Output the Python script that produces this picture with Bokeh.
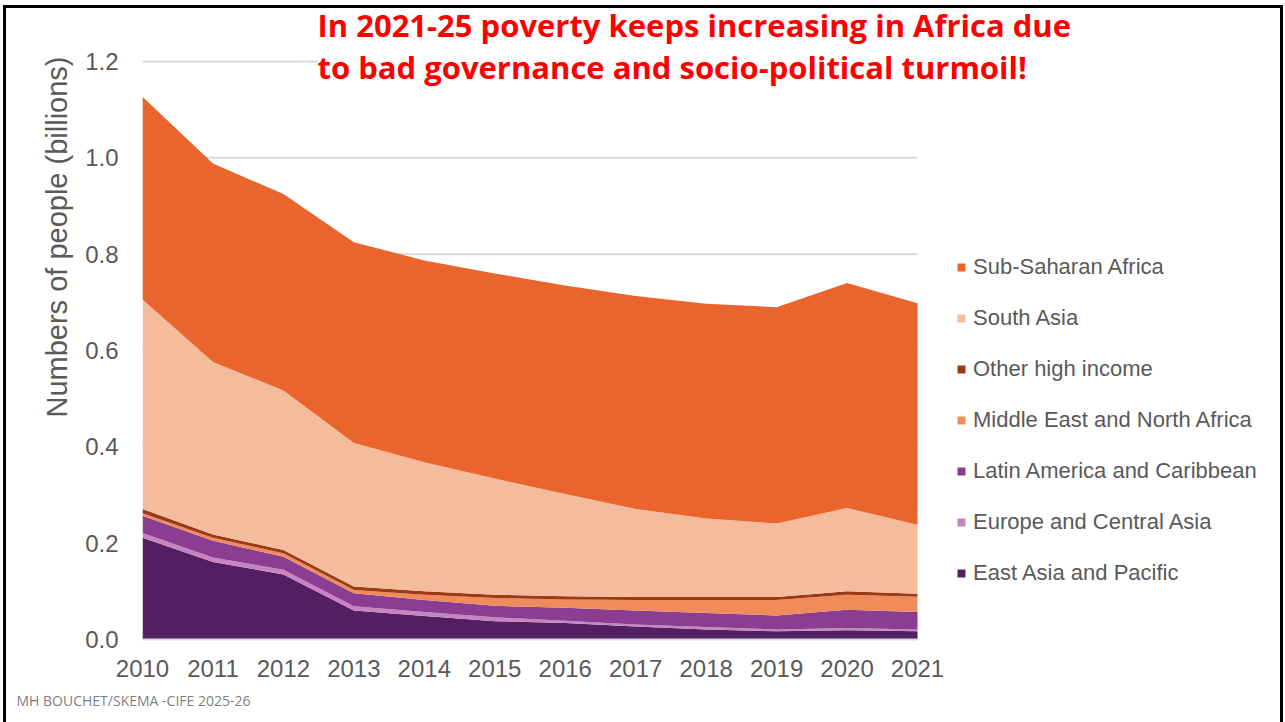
from math import pi
import pandas as pd
from bokeh.plotting import figure
from bokeh.models import (ColumnDataSource, Range1d, FixedTicker, Label, Legend,
                          LegendItem, NumeralTickFormatter, Title)
from bokeh.embed import file_html
from bokeh.resources import INLINE

# ---------------- data (billions of people) ----------------
years = list(range(2010, 2022))
east_asia_pacific = [0.211, 0.161, 0.135, 0.060, 0.049, 0.038, 0.034, 0.027, 0.021, 0.017, 0.019, 0.017]
europe_central_asia = [0.010, 0.009, 0.010, 0.009, 0.008, 0.008, 0.005, 0.004, 0.005, 0.004, 0.005, 0.004]
latin_america_caribbean = [0.036, 0.035, 0.027, 0.027, 0.025, 0.024, 0.027, 0.029, 0.029, 0.029, 0.038, 0.036]
middle_east_north_africa = [0.005, 0.006, 0.007, 0.007, 0.011, 0.016, 0.017, 0.022, 0.027, 0.032, 0.031, 0.032]
other_high_income = [0.009, 0.007, 0.007, 0.007, 0.007, 0.007, 0.007, 0.006, 0.006, 0.006, 0.007, 0.006]
south_asia = [0.435, 0.358, 0.331, 0.298, 0.268, 0.241, 0.212, 0.183, 0.163, 0.153, 0.173, 0.143]
sub_saharan_africa = [0.421, 0.412, 0.408, 0.417, 0.419, 0.426, 0.433, 0.442, 0.446, 0.449, 0.467, 0.460]

series_keys = ["eap", "eca", "lac", "mena", "ohi", "sa", "ssa"]
series_labels = ["East Asia and Pacific", "Europe and Central Asia", "Latin America and Caribbean",
                 "Middle East and North Africa", "Other high income", "South Asia", "Sub-Saharan Africa"]
series_colors = ["#531E62", "#C685C2", "#8A3D91", "#F08B5C", "#9C3A16", "#F5BB9D", "#EA652D"]
y_ticks = [0.0, 0.2, 0.4, 0.6, 0.8, 1.0, 1.2]

df = pd.DataFrame({
    "year": years,
    "eap": east_asia_pacific,
    "eca": europe_central_asia,
    "lac": latin_america_caribbean,
    "mena": middle_east_north_africa,
    "ohi": other_high_income,
    "sa": south_asia,
    "ssa": sub_saharan_africa,
})
source = ColumnDataSource(df)

grid_src = ColumnDataSource(dict(x0=[years[0]] * len(y_ticks), x1=[years[-1]] * len(y_ticks),
                                 y=y_ticks))

# ---------------- layout ----------------
W, H = 1285, 722
FL, FB = 142, 639            # frame left / bottom (pixels); frame runs to top & right canvas edge
PX_YEAR = (917 - 142) / 11   # pixels per year
PX_UNIT = (639 - 61) / 1.2   # pixels per billion

x_end = years[0] + (W - FL) / PX_YEAR
y_end = FB / PX_UNIT

p = figure(width=W, height=H, output_backend="svg", toolbar_location=None,
           x_range=Range1d(years[0], x_end), y_range=Range1d(0, y_end),
           min_border_left=FL, min_border_right=0,
           min_border_top=0, min_border_bottom=H - FB)
p.outline_line_color = None
p.background_fill_alpha = 0
p.border_fill_alpha = 0
# slide frame (black rule left, top, right) drawn with CSS behind the transparent canvas
p.styles = {
    "background-color": "white",
    "box-shadow": ("inset 3px 0 0 0 white, inset 0 5px 0 0 white, inset -2px 0 0 0 white, "
                   "inset 6px 0 0 0 black, inset 0 8px 0 0 black, inset -5px 0 0 0 black"),
}


def px_x(px):
    return years[0] + (px - FL) / PX_YEAR


def px_y(py):
    return (FB - py) / PX_UNIT


# horizontal gridlines (only across the data span)
p.segment(x0="x0", x1="x1", y0="y", y1="y", source=grid_src, line_color="#D9D9D9", line_width=2)

renderers = p.varea_stack(stackers=series_keys, x="year", color=series_colors, source=source)

# axes
AX_FONT = "Liberation Sans"
GRAY = "#595959"
p.yaxis.ticker = FixedTicker(ticks=y_ticks)
p.yaxis.formatter = NumeralTickFormatter(format="0.0")
p.yaxis.axis_line_color = None
p.yaxis.major_tick_line_color = None
p.yaxis.minor_tick_line_color = None
p.yaxis.major_tick_out = 0
p.yaxis.major_label_standoff = 24
p.yaxis.major_label_text_font = AX_FONT
p.yaxis.major_label_text_font_size = "24px"
p.yaxis.major_label_text_color = GRAY

p.xaxis.ticker = FixedTicker(ticks=years)
p.xaxis.bounds = (years[0], years[-1])
p.xaxis.axis_line_color = "#D9D9D9"
p.xaxis.axis_line_width = 2
p.xaxis.major_tick_line_color = None
p.xaxis.minor_tick_line_color = None
p.xaxis.major_tick_out = 0
p.xaxis.major_label_standoff = 20
p.xaxis.major_label_text_font = AX_FONT
p.xaxis.major_label_text_font_size = "24px"
p.xaxis.major_label_text_color = GRAY

p.xgrid.grid_line_color = None
p.ygrid.grid_line_color = None

# y axis title (vertical, its end near the top of the value range as in the reference)
p.add_layout(Title(text="Numbers of people (billions)", align="right", offset=56,
                   text_font=AX_FONT, text_font_size="29px", text_font_style="normal",
                   text_color=GRAY, standoff=19), "left")

# footer
p.add_layout(Title(text="MH BOUCHET/SKEMA -CIFE 2025-26", align="left", offset=-126,
                   text_font="Open Sans", text_font_size="14px", text_font_style="normal",
                   text_color="#7F7F7F", standoff=19), "below")

# legend (top item = top of stack)
items = [LegendItem(label=lab, renderers=[r]) for lab, r in zip(series_labels, renderers)]
items.reverse()
legend = Legend(items=items, location=(956 - FL, 53),
                glyph_width=10, glyph_height=10, label_height=23, spacing=25,
                label_standoff=7, padding=0, margin=0,
                label_text_font=AX_FONT, label_text_font_size="22px", label_text_color=GRAY,
                border_line_color=None, background_fill_alpha=0)
p.add_layout(legend)

# title (two red bold lines)
TITLE_FONT = "Open Sans"
p.add_layout(Label(x=px_x(317), y=px_y(24), text="In 2021-25 poverty keeps increasing in Africa due",
                   text_align="left", text_baseline="middle", text_font=TITLE_FONT,
                   text_font_size="31px", text_font_style="bold", text_color="#FF0000"))
p.add_layout(Label(x=px_x(317), y=px_y(66), text="to bad governance and socio-political turmoil!",
                   text_align="left", text_baseline="middle", text_font=TITLE_FONT,
                   text_font_size="31px", text_font_style="bold", text_color="#FF0000",
                   background_fill_color="white", background_fill_alpha=1.0))

open("out.html", "w").write(file_html(p, INLINE))
